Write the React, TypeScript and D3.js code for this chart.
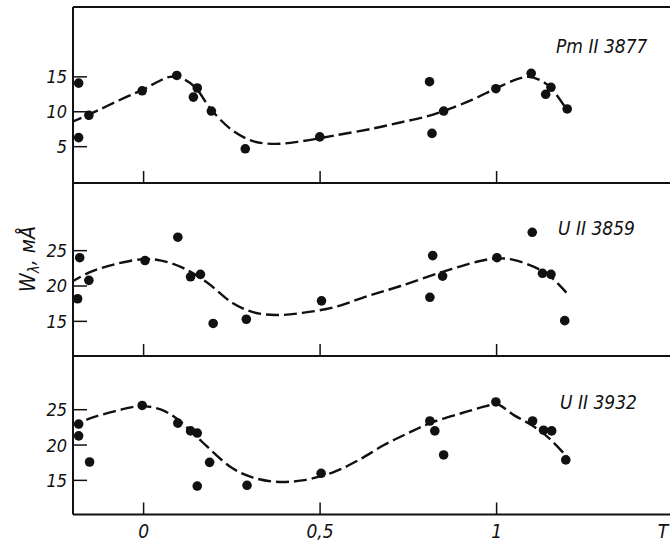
import React from "react";
import * as d3 from "d3";

// ---- data (phase T, equivalent width W in mÅ) ----
const pmPointsT = [-0.184, -0.184, -0.155, -0.004, 0.094, 0.152, 0.141, 0.192, 0.288, 0.499, 0.81, 0.817, 0.85, 0.998, 1.098, 1.154, 1.139, 1.2];
const pmPointsW = [14.1, 6.3, 9.5, 13.0, 15.2, 13.4, 12.1, 10.1, 4.7, 6.4, 14.3, 6.9, 10.1, 13.3, 15.5, 13.5, 12.5, 10.4];
const pmCurveT = [-0.21, -0.155, -0.05, 0.0, 0.04, 0.075, 0.12, 0.15, 0.19, 0.25, 0.31, 0.376, 0.45, 0.54, 0.65, 0.73, 0.8, 0.85, 0.93, 1.0, 1.06, 1.09, 1.12, 1.154, 1.2];
const pmCurveW = [8.4, 9.6, 12.1, 13.2, 14.3, 15.0, 14.5, 13.3, 10.4, 7.4, 5.8, 5.4, 5.8, 6.6, 7.6, 8.5, 9.3, 10.1, 11.7, 13.4, 14.7, 15.0, 14.6, 13.4, 10.2];

const u59PointsT = [-0.181, -0.187, -0.155, 0.004, 0.097, 0.133, 0.161, 0.197, 0.291, 0.504, 0.819, 0.811, 0.847, 1.001, 1.101, 1.13, 1.154, 1.193];
const u59PointsW = [24.0, 18.2, 20.8, 23.6, 26.9, 21.3, 21.65, 14.7, 15.3, 17.9, 24.3, 18.4, 21.4, 24.0, 27.6, 21.8, 21.65, 15.1];
const u59CurveT = [-0.21, -0.15, -0.08, 0.0, 0.05, 0.11, 0.177, 0.252, 0.31, 0.375, 0.45, 0.54, 0.63, 0.728, 0.847, 0.95, 1.0, 1.048, 1.123, 1.16, 1.199];
const u59CurveW = [20.4, 22.0, 23.1, 23.8, 23.6, 22.6, 20.6, 17.6, 16.3, 15.9, 16.2, 17.0, 18.5, 20.0, 22.0, 23.5, 23.9, 23.7, 22.3, 21.0, 19.0];

const u32PointsT = [-0.184, -0.184, -0.153, -0.004, 0.097, 0.133, 0.152, 0.152, 0.187, 0.293, 0.503, 0.811, 0.825, 0.85, 0.998, 1.102, 1.133, 1.156, 1.196];
const u32PointsW = [22.97, 21.3, 17.6, 25.6, 23.1, 22.0, 21.7, 14.2, 17.55, 14.3, 16.0, 23.4, 22.0, 18.6, 26.1, 23.4, 22.1, 22.0, 17.9];
const u32CurveT = [-0.21, -0.15, -0.08, -0.01, 0.05, 0.1, 0.158, 0.252, 0.31, 0.375, 0.45, 0.54, 0.61, 0.681, 0.75, 0.811, 0.9, 0.97, 1.0, 1.05, 1.1, 1.15, 1.2];
const u32CurveW = [22.6, 23.8, 24.8, 25.5, 25.0, 23.5, 20.8, 16.7, 15.4, 14.8, 15.0, 16.2, 17.9, 20.0, 21.7, 23.1, 24.5, 25.5, 25.8, 24.2, 22.8, 20.9, 18.3];

const seriesNames = ["Pm II 3877", "U II 3859", "U II 3932"];
const yDomains = [[-0.2, 25], [10.1, 34.57], [10.17, 32.6]];
const yTicks = [[5, 10, 15], [15, 20, 25], [15, 20, 25]];
const xTicks = [0, 0.5, 1];
const xTickLabels = ["0", "0,5", "1"];

const FONT = "'Liberation Sans Narrow', 'DejaVu Sans Condensed', 'Liberation Sans', sans-serif";

export default function App() {
  const left = 73;
  const right = 670;
  const panelTops = [7, 183, 356];
  const panelBottoms = [183, 356, 514.5];
  const x = d3.scaleLinear().domain([-0.2, 1.5]).range([left, left + 1.7 * 353]);

  const series = [
    { pT: pmPointsT, pW: pmPointsW, cT: pmCurveT, cW: pmCurveW },
    { pT: u59PointsT, pW: u59PointsW, cT: u59CurveT, cW: u59CurveW },
    { pT: u32PointsT, pW: u32PointsW, cT: u32CurveT, cW: u32CurveW },
  ];
  const labelPos = [
    { x: 556, y: 53 },
    { x: 558, y: 235 },
    { x: 560, y: 409 },
  ];

  return (
    <svg width={670} height={544} style={{ position: "absolute", left: 0, top: 0, background: "#fff" }}>
      <defs>
        <clipPath id="plotclip">
          <rect x={left} y={0} width={right - left} height={544} />
        </clipPath>
      </defs>
      {series.map((s, i) => {
        const y = d3.scaleLinear().domain(yDomains[i]).range([panelBottoms[i], panelTops[i]]);
        const line = d3
          .line<number>()
          .x((_, k) => x(s.cT[k]))
          .y((_, k) => y(s.cW[k]))
          .curve(d3.curveCatmullRom.alpha(0.5));
        return (
          <g key={i}>
            <path
              d={line(s.cT) || ""}
              fill="none"
              stroke="#111"
              strokeWidth={2.4}
              strokeDasharray="13,5"
              clipPath="url(#plotclip)"
            />
            {s.pT.map((t, k) => (
              <circle key={k} cx={x(t)} cy={y(s.pW[k])} r={4.8} fill="#111" />
            ))}
            {yTicks[i].map((v) => (
              <g key={v}>
                <line x1={left} x2={left + 14} y1={y(v)} y2={y(v)} stroke="#111" strokeWidth={1.5} />
                <text
                  x={67}
                  y={y(v)}
                  dy="0.36em"
                  textAnchor="end"
                  fontFamily={FONT}
                  fontStyle="italic"
                  fontSize={18}
                  fill="#111"
                >
                  {v}
                </text>
              </g>
            ))}
            {xTicks.map((t) => (
              <line
                key={t}
                x1={x(t)}
                x2={x(t)}
                y1={panelBottoms[i]}
                y2={panelBottoms[i] - 12}
                stroke="#111"
                strokeWidth={1.5}
              />
            ))}
            <line x1={left} x2={right} y1={panelBottoms[i]} y2={panelBottoms[i]} stroke="#111" strokeWidth={2} />
            <text
              x={labelPos[i].x}
              y={labelPos[i].y}
              fontFamily={FONT}
              fontStyle="italic"
              fontSize={19}
              fill="#111"
            >
              {seriesNames[i]}
            </text>
          </g>
        );
      })}
      <line x1={left} x2={right} y1={panelTops[0]} y2={panelTops[0]} stroke="#111" strokeWidth={2} />
      <line x1={left} x2={left} y1={panelTops[0]} y2={panelBottoms[2]} stroke="#111" strokeWidth={2} />
      {xTicks.map((t, k) => (
        <text
          key={t}
          x={x(t)}
          y={538}
          textAnchor="middle"
          fontFamily={FONT}
          fontStyle="italic"
          fontSize={19}
          fill="#111"
        >
          {xTickLabels[k]}
        </text>
      ))}
      <text x={663} y={538} textAnchor="middle" fontFamily={FONT} fontStyle="italic" fontSize={19} fill="#111">
        T
      </text>
      <text
        transform="translate(35,259) rotate(-90)"
        textAnchor="middle"
        fontFamily={FONT}
        fontStyle="italic"
        fontSize={21}
        fill="#111"
      >
        <tspan>W</tspan>
        <tspan fontSize={15} dy={4}>λ</tspan>
        <tspan dy={-4}>, мÅ</tspan>
      </text>
    </svg>
  );
}
